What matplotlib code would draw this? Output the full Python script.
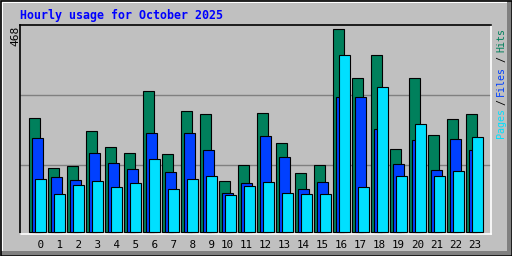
import numpy as np
import matplotlib
matplotlib.use("Agg")
from matplotlib import pyplot as plt
from matplotlib.patches import Rectangle

# Hourly usage
hours = list(range(24))
hour_labels = [f"{h:2d}" for h in hours]
hits = [263, 148, 152, 233, 196, 182, 325, 180, 279, 272, 118, 155,
        274, 205, 136, 155, 468, 355, 408, 191, 355, 224, 261, 272]
files = [217, 127, 120, 182, 159, 145, 228, 138, 228, 189, 90, 113,
         221, 173, 99, 115, 311, 311, 238, 157, 212, 143, 214, 189]
pages = [122, 88, 109, 118, 105, 113, 168, 99, 122, 129, 85, 106,
         115, 90, 88, 88, 408, 104, 334, 129, 249, 129, 141, 219]
y_max_label = "468"

W, H = 512, 256
BG = "#C0C0C0"
C_HITS = "#00805C"
C_FILES = "#0040FF"
C_PAGES = "#00E0FF"
MONO = "DejaVu Sans Mono"

fig = plt.figure(figsize=(W / 100, H / 100), dpi=100)
fig.patch.set_facecolor(BG)

# overlay for the bevelled outer frame (pixel coords)
bg = fig.add_axes([0, 0, 1, 1], zorder=0)
bg.set_xlim(0, W)
bg.set_ylim(H, 0)
bg.axis("off")
bg.add_patch(Rectangle((0, 0), W, H, facecolor=BG, edgecolor="none"))
# white top/left, dark grey bottom/right, black outline
bg.add_patch(Rectangle((1, 1), W - 2, 2, facecolor="white", edgecolor="none"))
bg.add_patch(Rectangle((1, 1), 2, H - 2, facecolor="white", edgecolor="none"))
bg.add_patch(Rectangle((1, H - 5), W - 2, 4, facecolor="#808080", edgecolor="none"))
bg.add_patch(Rectangle((W - 5, 1), 4, H - 2, facecolor="#808080", edgecolor="none"))
bg.add_patch(Rectangle((0.5, 0.5), W - 1, H - 1, facecolor="none",
                       edgecolor="black", linewidth=1.2))

# main plot area
px_left, px_right, px_top, px_bot = 20, 491, 25, 234
ax = fig.add_axes([px_left / W, 1 - px_bot / H, (px_right - px_left) / W,
                   (px_bot - px_top) / H], zorder=1)
ax.set_facecolor(BG)

x = np.array(hours)
width = 0.55
off = 0.158
bar_kw = dict(width=width, edgecolor="black", linewidth=0.8, zorder=3)
ax.bar(x - off, hits, color=C_HITS, **bar_kw)
ax.bar(x, files, color=C_FILES, **bar_kw)
ax.bar(x + off, pages, color=C_PAGES, **bar_kw)

for gy in (155, 316):
    ax.axhline(gy, color="#808080", linewidth=1.0, zorder=1)

ax.set_xlim(-0.921, 23.868)
ax.set_ylim(-4, 478)
ax.set_yticks([])
ax.set_xticks(x)
ax.set_xticklabels(hour_labels, fontfamily=MONO, fontsize=7.8)
ax.tick_params(axis="x", length=0, pad=4)

for side in ("top", "left"):
    ax.spines[side].set_color("black")
    ax.spines[side].set_linewidth(1.2)
for side in ("bottom", "right"):
    ax.spines[side].set_color("white")
    ax.spines[side].set_linewidth(1.2)

fig.text(20 / W, 1 - 15 / H, "Hourly usage for October 2025", color="#0000FF",
         fontfamily=MONO, fontweight="bold", fontsize=8.4, ha="left", va="center")

fig.text(15 / W, 1 - 26 / H, y_max_label, rotation=90, fontfamily=MONO,
         fontsize=8, ha="center", va="top", color="black")

# right-side legend "Pages / Files / Hits", reading upwards
lx = 501 / W
leg = [("Pages", C_PAGES, 137, 110), ("/", "black", 104, 100),
       ("Files", C_FILES, 94, 67), ("/", "black", 62, 57),
       ("Hits", C_HITS, 51, 30)]
for txt, col, y0, y1 in leg:
    fig.text(lx, 1 - (y0 + y1) / 2 / H, txt, rotation=90, color=col,
             fontfamily=MONO, fontsize=7.2, ha="center", va="center")

fig.savefig("out.png", dpi=100, facecolor=BG)
